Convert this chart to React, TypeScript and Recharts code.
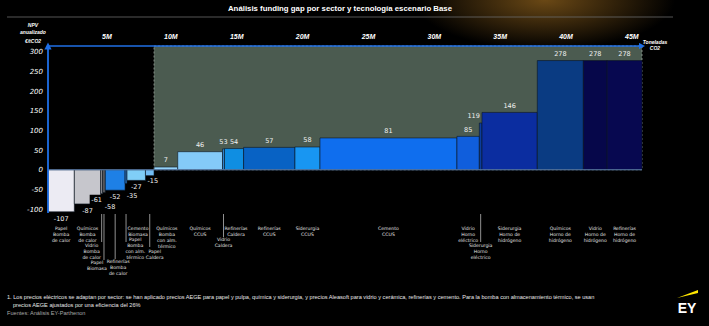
import React from "react";
import {
  ComposedChart,
  XAxis,
  YAxis,
  ReferenceArea,
  ReferenceLine,
  Scatter,
} from "recharts";

// categories: sector | technology, split on "|" into label lines
const categories = [
  "Papel|Bomba|de calor",
  "Químicos|Bomba|de calor",
  "Vidrio|Bomba|de calor",
  "Papel|Biomasa",
  "Refinerías|Bomba|de calor",
  "Cemento|Biomasa",
  "Papel|Bomba|con alm.|térmico",
  "Papel|Caldera",
  "Químicos|Bomba|con alm.|térmico",
  "Químicos|CCUS",
  "Vidrio|Caldera",
  "Refinerías|Caldera",
  "Refinerías|CCUS",
  "Siderurgia|CCUS",
  "Cemento|CCUS",
  "Vidrio|Horno|eléctrico",
  "Siderurgia|Horno|eléctrico",
  "Siderurgia|Horno de|hidrógeno",
  "Químicos|Horno de|hidrógeno",
  "Vidrio|Horno de|hidrógeno",
  "Refinerías|Horno de|hidrógeno",
];

// NPV anualizado, €/tCO2
const npvValues = [
  -107, -87, -61, -58, -52, -35, -27, -15, 7, 46, 53, 54, 57, 58, 81, 85, 119,
  146, 278, 278, 278,
];

// toneladas CO2 abatidas (millones)
const abatementMt = [
  2.0, 2.0, 0.15, 0.2, 1.5, 0.15, 1.4, 0.65, 1.8, 3.4, 0.15, 1.45, 3.9, 1.9,
  10.4, 1.7, 0.2, 4.2, 3.5, 1.8, 2.65,
];

const xTicks = [5, 10, 15, 20, 25, 30, 35, 40, 45];
const yTicks = [-100, -50, 0, 50, 100, 150, 200, 250, 300];

const barColors = [
  "#ECEBF3", "#C6C6CC", "#8E8E94", "#5E5E62", "#1E80E6", "#2A6FB8",
  "#80CEF7", "#73BDF4", "#94D2F8", "#84CAF8", "#2E86D0", "#0F8EE2",
  "#0862C4", "#1896F2", "#0F6EEE", "#105EDC", "#0A3C9E", "#0B2DA0",
  "#0A3B82", "#06074A", "#070850",
];

const starts: number[] = [];
let acc = 0;
abatementMt.forEach((w) => {
  starts.push(acc);
  acc += w;
});
const totalMt = acc;
const mids = abatementMt.map((w, i) => starts[i] + w / 2);
const gapStart = starts[npvValues.findIndex((v) => v > 0)];
const points = mids.map((m, i) => ({ x: m, y: npvValues[i] }));

const Y_MIN = -110;
const Y_MAX = 315;

// label nudges [dx, dy] for crowded narrow bars
const valueNudge: Record<number, [number, number]> = {
  2: [-5, -1],
  3: [6, 7],
  5: [6, 5],
  6: [0, -1],
  7: [3, -2],
  16: [-7, 0],
};

// category label layout: dx, first-line offset, leader line length
const catLayout: Record<number, { dx: number; dy: number; lead?: number }> = {
  2: { dx: -10, dy: 34, lead: 29 },
  3: { dx: -7, dy: 51, lead: 47 },
  4: { dx: 3, dy: 50, lead: 46 },
  5: { dx: 12, dy: 17, lead: 29 },
  6: { dx: -1, dy: 28 },
  7: { dx: 5, dy: 40, lead: 34 },
  8: { dx: 1, dy: 17 },
  10: { dx: 0, dy: 28, lead: 24 },
  11: { dx: 2, dy: 17 },
  16: { dx: 0, dy: 34, lead: 29 },
};

const BLUE = "#1F6FE6";

const TopTick = ({ x, y, payload }: any) => (
  <text
    x={x - 2}
    y={y - 7}
    textAnchor="end"
    fill="#fff"
    fontSize={7}
    fontStyle="italic"
    fontWeight={700}
    fontFamily="Liberation Sans, Arial, sans-serif"
  >
    {`${payload.value}M`}
  </text>
);

const YTick = ({ x, y, payload }: any) => (
  <text
    x={x}
    y={y}
    dy="0.35em"
    textAnchor="end"
    fill="#fff"
    fontSize={7}
    fontStyle="italic"
    fontFamily="DejaVu Sans, sans-serif"
  >
    {payload.value}
  </text>
);

const CategoryTick = ({ x, y, payload, index }: any) => {
  let i = mids.indexOf(payload.value);
  if (i < 0) i = index;
  const lines = categories[i].split("|");
  const lay = catLayout[i] ?? { dx: 0, dy: 17 };
  return (
    <g>
      {lay.lead && (
        <line x1={x} y1={y + 1} x2={x} y2={y + lay.lead} stroke="#b5b5b5" strokeWidth={0.8} />
      )}
      <text
        x={x + lay.dx}
        y={y + lay.dy}
        textAnchor="middle"
        fill="#e4e4e4"
        fontSize={4.6}
        fontFamily="DejaVu Sans, sans-serif"
      >
        {lines.map((l, k) => (
          <tspan key={k} x={x + lay.dx} dy={k === 0 ? 0 : 6}>
            {l}
          </tspan>
        ))}
      </text>
    </g>
  );
};

const ValueLabel = ({ viewBox, idx }: any) => {
  if (!viewBox) return null;
  const v = npvValues[idx];
  const { x, y, width, height } = viewBox;
  const [ndx, ndy] = valueNudge[idx] ?? [0, 0];
  const cx = x + width / 2 + ndx;
  const top = Math.min(y, y + height);
  const bottom = Math.max(y, y + height);
  const cy = (v >= 0 ? top - 7 : bottom + 7) + ndy;
  return (
    <g>
      {idx === 2 && <rect x={cx - 7} y={cy - 5} width={14} height={10} fill="#000" />}
      <text
        x={cx}
        y={cy}
        dy="0.35em"
        textAnchor="middle"
        fill="#f2f2f2"
        fontSize={6.5}
        fontFamily="DejaVu Sans, sans-serif"
      >
        {String(v)}
      </text>
    </g>
  );
};

const footFont = "Liberation Sans, Arial, sans-serif";

export default function App() {
  return (
    <div
      style={{
        position: "absolute",
        left: 0,
        top: 0,
        width: 709,
        height: 326,
        overflow: "hidden",
        background:
          "radial-gradient(ellipse 130px 50px at 545px 0px, rgba(125,85,25,0.85), rgba(0,0,0,0) 100%), #000",
      }}
    >
      <ComposedChart
        width={709}
        height={326}
        margin={{ top: 26, right: 67, bottom: 53, left: 8 }}
      >
        <defs>
          <marker
            id="arrowHead"
            viewBox="0 0 10 10"
            refX="5"
            refY="5"
            markerWidth="4"
            markerHeight="4"
            orient="auto-start-reverse"
          >
            <path d="M0,0 L10,5 L0,10 z" fill={BLUE} />
          </marker>
        </defs>
        <XAxis
          xAxisId="top"
          orientation="top"
          type="number"
          dataKey="x"
          domain={[0, totalMt]}
          ticks={xTicks}
          interval={0}
          height={20}
          tickSize={0}
          tickMargin={0}
          tick={<TopTick />}
          axisLine={{ stroke: BLUE, strokeWidth: 1.6, markerEnd: "url(#arrowHead)" }}
          allowDataOverflow
        />
        <XAxis
          xAxisId="cat"
          orientation="bottom"
          type="number"
          dataKey="x"
          domain={[0, totalMt]}
          ticks={mids}
          interval={0}
          height={60}
          tickSize={0}
          tickMargin={0}
          axisLine={false}
          tick={<CategoryTick />}
          allowDataOverflow
        />
        <YAxis
          type="number"
          domain={[Y_MIN, Y_MAX]}
          ticks={yTicks}
          interval={0}
          width={40}
          tickSize={0}
          tickMargin={5}
          tick={<YTick />}
          axisLine={{ stroke: BLUE, strokeWidth: 1.8, markerStart: "url(#arrowHead)" }}
          allowDataOverflow
        />
        <ReferenceArea
          xAxisId="top"
          x1={gapStart}
          x2={totalMt}
          y1={0}
          y2={Y_MAX}
          fill="#4B5B50"
          fillOpacity={1}
          stroke="#9AA59C"
          strokeWidth={0.8}
          strokeDasharray="2 2"
        />
        {npvValues.map((v, i) => (
          <ReferenceArea
            key={categories[i]}
            xAxisId="top"
            x1={starts[i]}
            x2={starts[i] + abatementMt[i]}
            y1={Math.min(0, v)}
            y2={Math.max(0, v)}
            fill={barColors[i]}
            fillOpacity={1}
            stroke="#0c1522"
            strokeWidth={0.6}
            label={<ValueLabel idx={i} />}
          />
        ))}
        <ReferenceLine xAxisId="top" y={0} stroke="#5D7FAE" strokeWidth={1} />
        <Scatter xAxisId="top" data={points} dataKey="y" fillOpacity={0} isAnimationActive={false} />
        <Scatter xAxisId="cat" data={points} dataKey="y" fillOpacity={0} isAnimationActive={false} />
      </ComposedChart>

      <svg
        width={709}
        height={326}
        style={{ position: "absolute", left: 0, top: 0, pointerEvents: "none" }}
      >
        <text
          x={340}
          y={11}
          textAnchor="middle"
          fill="#fff"
          fontSize={7.8}
          fontWeight={700}
          fontFamily={footFont}
        >
          Análisis funding gap por sector y tecnología escenario Base
        </text>
        <line x1={7} x2={673} y1={17} y2={17} stroke="#6a6a6a" strokeWidth={0.8} />

        <g fill="#fff" fontSize={5} fontWeight={700} fontStyle="italic" fontFamily={footFont} textAnchor="middle">
          <text x={33} y={27}>NPV</text>
          <text x={33} y={34}>anualizado</text>
          <text x={33} y={43}>€/tCO2</text>
          <text x={655} y={44}>Toneladas</text>
          <text x={655} y={50}>CO2</text>
        </g>

        <g fill="#e8e8e8" fontSize={5.6} fontFamily={footFont}>
          <text x={7} y={299}>
            1. Los precios eléctricos se adaptan por sector: se han aplicado precios AEGE para papel y pulpa, química y siderurgia, y precios Aleasoft para vidrio y cerámica, refinerías y cemento. Para la bomba con almacenamiento térmico, se usan
          </text>
          <text x={13} y={307}>precios AEGE ajustados por una eficiencia del 26%</text>
          <text x={7} y={315} fill="#a8a8a8">Fuentes: Análisis EY-Parthenon</text>
        </g>

        <polygon points="677,298 698,290 698,293" fill="#FFE600" />
        <text
          x={687}
          y={313}
          textAnchor="middle"
          fill="#fff"
          fontSize={14}
          fontWeight={700}
          fontFamily={footFont}
        >
          EY
        </text>
      </svg>
    </div>
  );
}
